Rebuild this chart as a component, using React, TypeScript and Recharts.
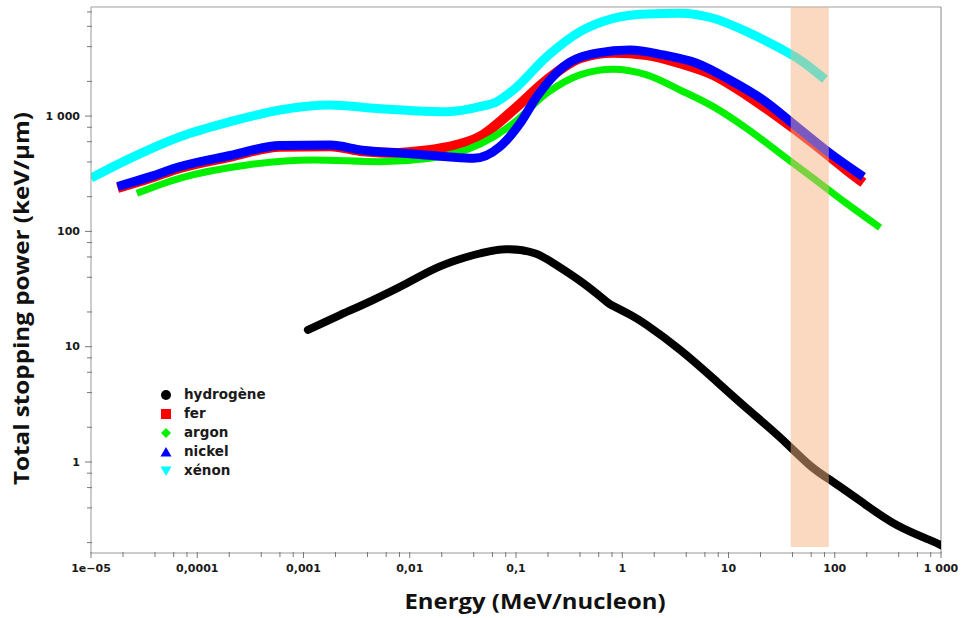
import React from 'react';
import {
  ComposedChart,
  Line,
  XAxis,
  YAxis,
  ReferenceArea,
  ReferenceLine,
  Legend,
  Label,
} from 'recharts';

// ---- tick labels ----
const xMajorTicks = [1e-5, 1e-4, 1e-3, 0.01, 0.1, 1, 10, 100, 1000];
const xMajorLabels = ['1e−05', '0,0001', '0,001', '0,01', '0,1', '1', '10', '100', '1 000'];
const yMajorTicks = [1, 10, 100, 1000];
const yMajorLabels = ['1', '10', '100', '1 000'];
const minorSteps = [2, 4, 6, 8];
const yMinorDecades = [0.1, 1, 10, 100, 1000];

// ---- series (energy MeV/nucleon, stopping power keV/µm) ----
const hydrogenE = [0.0011, 0.0022, 0.0045, 0.0094, 0.019, 0.04, 0.08, 0.15, 0.24, 0.43, 0.71, 0.82, 1.2, 1.7, 3.5, 7.2, 15, 30, 58, 97, 186, 383, 787, 1000];
const hydrogenS = [14, 18.8, 25.4, 35.5, 49.4, 62.4, 70, 64.6, 51, 35.5, 24.6, 22.6, 18.8, 15.4, 9.4, 5.3, 2.9, 1.66, 0.94, 0.67, 0.44, 0.284, 0.21, 0.19];

const ferE = [1.78e-5, 3.55e-5, 6.9e-5, 2.04e-4, 6.0e-4, 1.78e-3, 3.6e-3, 7.6e-3, 0.0107, 0.0224, 0.0457, 0.0944, 0.195, 0.4, 0.824, 1.7, 3.5, 7.19, 14.8, 30.5, 62.8, 129, 186];
const ferS = [238, 289, 355, 444, 543, 548, 495, 478, 490, 537, 663, 1130, 2057, 3170, 3550, 3390, 2870, 2275, 1525, 957, 581, 341, 264];

const argonE = [2.7e-5, 6.9e-5, 2.95e-4, 1.23e-3, 5.25e-3, 0.0155, 0.0458, 0.0944, 0.195, 0.4, 0.824, 1.7, 3.5, 7.19, 14.8, 30.5, 62.8, 129, 267];
const argonS = [214, 290, 377, 416, 402, 430, 570, 865, 1577, 2275, 2548, 2275, 1683, 1207, 783, 476, 289, 175, 108];

const nickelE = [1.78e-5, 3.55e-5, 6.9e-5, 2.04e-4, 6.0e-4, 1.78e-3, 3.6e-3, 7.6e-3, 0.0107, 0.0224, 0.0398, 0.0706, 0.109, 0.157, 0.279, 0.574, 1.18, 2.43, 5.02, 10.3, 21.2, 43.9, 90.2, 186];
const nickelS = [245, 297, 365, 455, 556, 560, 505, 480, 470, 444, 430, 543, 865, 1473, 2680, 3510, 3740, 3390, 2870, 2057, 1380, 809, 476, 298];

const xenonE = [1e-5, 2.33e-5, 6.9e-5, 2.04e-4, 6.0e-4, 1.78e-3, 4.54e-3, 0.0107, 0.0224, 0.0458, 0.066, 0.0944, 0.195, 0.4, 0.824, 1.7, 3.5, 7.19, 14.8, 30.5, 47.1, 80.9];
const xenonS = [290, 430, 663, 894, 1130, 1248, 1169, 1114, 1092, 1207, 1333, 1683, 3275, 5400, 7050, 7690, 7800, 7050, 5400, 3870, 3070, 2084];

// band (MeV/nucleon)
const bandX = [38.5, 88];
const bandY = [0.183, 8830];

const xDomain = [1e-5, 1000];
const yDomain = [0.1625, 8830];

const toRows = (es: number[], ss: number[]) => es.map((e, i) => ({ e, s: ss[i] }));

const series = [
  { name: 'hydrogène', color: '#000000', data: toRows(hydrogenE, hydrogenS), width: 8, shape: 'circle', curve: 'natural' },
  { name: 'fer', color: '#FF0000', data: toRows(ferE, ferS), width: 10, shape: 'square', curve: 'monotone' },
  { name: 'argon', color: '#00F000', data: toRows(argonE, argonS), width: 7, shape: 'diamond', curve: 'monotone' },
  { name: 'nickel', color: '#0000FF', data: toRows(nickelE, nickelS), width: 9, shape: 'triangle', curve: 'monotone' },
  { name: 'xénon', color: '#00FFFF', data: toRows(xenonE, xenonS), width: 9, shape: 'triangleDown', curve: 'monotone' },
];

const xTicks: number[] = [];
xMajorTicks.forEach((d, i) => {
  xTicks.push(d);
  if (i < xMajorTicks.length - 1) minorSteps.forEach((m) => xTicks.push(d * m));
});
const yTicks: number[] = [...yMajorTicks];
yMinorDecades.forEach((d) => minorSteps.forEach((m) => yTicks.push(d * m)));
yTicks.sort((a, b) => a - b);

const findMajor = (list: number[], v: number) =>
  list.findIndex((t) => Math.abs(Math.log10(t) - Math.log10(v)) < 1e-6);

const tickFont = { fontFamily: 'DejaVu Sans', fontWeight: 700, fontSize: 11, fill: '#1a1a1a' };

const XTick = (props: any) => {
  const { x, y, payload } = props;
  const idx = findMajor(xMajorTicks, payload.value);
  const major = idx >= 0;
  return (
    <g>
      <line x1={x} x2={x} y1={y - 1} y2={y + (major ? 5 : 4)} stroke="#777" strokeWidth={1} />
      {major && (
        <text x={x} y={y + 15} textAnchor="middle" dominantBaseline="central" {...tickFont}>
          {xMajorLabels[idx]}
        </text>
      )}
    </g>
  );
};

const YTick = (props: any) => {
  const { x, y, payload } = props;
  const idx = findMajor(yMajorTicks, payload.value);
  const major = idx >= 0;
  return (
    <g>
      <line x1={x + 1} x2={x - (major ? 6 : 4)} y1={y} y2={y} stroke="#777" strokeWidth={1} />
      {major && (
        <text x={x - 11} y={y} textAnchor="end" dominantBaseline="central" {...tickFont}>
          {yMajorLabels[idx]}
        </text>
      )}
    </g>
  );
};

const Marker = ({ shape, color }: { shape: string; color: string }) => {
  let el: any = null;
  if (shape === 'circle') el = <circle cx={7} cy={7} r={5} fill={color} />;
  else if (shape === 'square') el = <rect x={2} y={2} width={10} height={10} fill={color} />;
  else if (shape === 'diamond') el = <polygon points="7,2 12,7 7,12 2,7" fill={color} />;
  else if (shape === 'triangle') el = <polygon points="7,2 12.5,11.5 1.5,11.5" fill={color} />;
  else el = <polygon points="1.5,2.5 12.5,2.5 7,12" fill={color} />;
  return (
    <svg width={14} height={14} style={{ display: 'block' }}>
      {el}
    </svg>
  );
};

const renderLegend = () => (
  <div style={{ display: 'flex', flexDirection: 'column' }}>
    {series.map((s) => (
      <div key={s.name} style={{ display: 'flex', alignItems: 'center', height: 19 }}>
        <Marker shape={s.shape} color={s.color} />
        <span
          style={{
            marginLeft: 11,
            fontFamily: 'DejaVu Sans',
            fontWeight: 700,
            fontSize: 13.5,
            color: '#1a1a1a',
            lineHeight: '19px',
          }}
        >
          {s.name}
        </span>
      </div>
    ))}
  </div>
);

const titleFont = { fontFamily: 'Open Sans', fontWeight: 700, fontSize: 21, fill: '#111' };

export default function App() {
  return (
    <div style={{ position: 'absolute', left: 0, top: 0, width: 962, height: 618, background: '#fff' }}>
      <ComposedChart width={962} height={618} margin={{ top: 7, right: 21, bottom: 0, left: 0 }}>
        <XAxis
          dataKey="e"
          type="number"
          scale="log"
          domain={xDomain}
          allowDataOverflow
          ticks={xTicks}
          interval={0}
          tick={<XTick />}
          tickLine={false}
          tickSize={0}
          tickMargin={0}
          height={65}
          axisLine={{ stroke: '#999', strokeWidth: 1 }}
        >
          <Label
            content={() => (
              <text
                x={535}
                y={609}
                textAnchor="middle"
                textLength={261}
                lengthAdjust="spacingAndGlyphs"
                {...titleFont}
              >
                Energy (MeV/nucleon)
              </text>
            )}
          />
        </XAxis>
        <YAxis
          dataKey="s"
          type="number"
          scale="log"
          domain={yDomain}
          allowDataOverflow
          ticks={yTicks}
          interval={0}
          tick={<YTick />}
          tickLine={false}
          tickSize={0}
          tickMargin={0}
          width={91}
          axisLine={{ stroke: '#999', strokeWidth: 1 }}
        >
          <Label
            content={() => (
              <text
                x={0}
                y={0}
                transform="translate(29,298.5) rotate(-90)"
                textAnchor="middle"
                textLength={373}
                lengthAdjust="spacingAndGlyphs"
                {...titleFont}
              >
                Total stopping power (keV/µm)
              </text>
            )}
          />
        </YAxis>
        <ReferenceLine y={yDomain[1]} stroke="#cfcfcf" strokeWidth={2} />
        <ReferenceLine x={xDomain[1]} stroke="#888" strokeWidth={1} />
        {series.map((s) => (
          <Line
            key={s.name}
            data={s.data}
            dataKey="s"
            name={s.name}
            type={s.curve as any}
            stroke={s.color}
            strokeWidth={s.width}
            strokeLinecap={s.shape === 'circle' ? 'round' : 'butt'}
            strokeLinejoin="round"
            dot={false}
            activeDot={false}
            isAnimationActive={false}
            legendType="none"
          />
        ))}
        <ReferenceArea
          x1={bandX[0]}
          x2={bandX[1]}
          y1={bandY[0]}
          y2={bandY[1]}
          fill="#F6B482"
          fillOpacity={0.5}
          stroke="none"
          zIndex={450}
        />
        <Legend
          layout="vertical"
          align="center"
          verticalAlign="middle"
          wrapperStyle={{ left: 159, top: 385, width: 'auto' }}
          content={renderLegend}
        />
      </ComposedChart>
    </div>
  );
}
